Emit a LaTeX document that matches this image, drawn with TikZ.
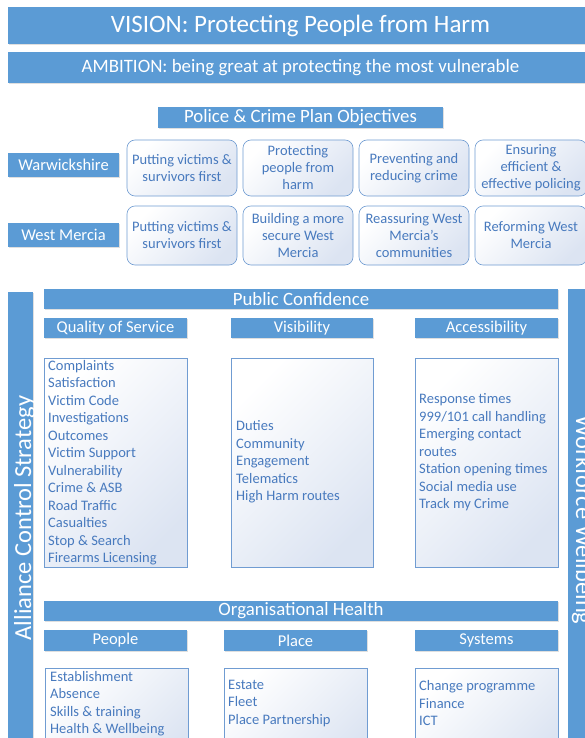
\documentclass[tikz,border=0pt]{standalone}
\usepackage{fontspec}
\setmainfont{Carlito}
\usetikzlibrary{positioning,shadows}
\definecolor{barblue}{RGB}{91,155,213}
\definecolor{itemblue}{RGB}{72,122,190}
\definecolor{edgeblue}{RGB}{112,156,210}
\definecolor{tintblue}{RGB}{220,228,242}
\tikzset{
	bar/.style={fill=barblue, text=white, outer sep=0pt, inner sep=0pt, anchor=north west,
		drop shadow={shadow xshift=0.8pt, shadow yshift=-1.2pt, opacity=0.25}},
	objbox/.style={draw=edgeblue, line width=0.6pt, rounded corners=8pt, top color=white,
		bottom color=tintblue, shading angle=45, text=itemblue, align=center, outer sep=0pt,
		inner sep=0pt, anchor=north west, font=\fontsize{14.5}{17}\selectfont},
	listbox/.style={draw=edgeblue, line width=0.6pt, top color=white, bottom color=tintblue,
		shading angle=45, outer sep=0pt, inner sep=0pt, anchor=north west},
	items/.style={text=itemblue, align=left, anchor=west, inner sep=0pt,
		font=\fontsize{14.5}{17.5}\selectfont},
	sidetext/.style={text=white, inner sep=0pt, anchor=base, font=\fontsize{24.5}{30}\selectfont},
	head/.style={font=\fontsize{16.5}{20}\selectfont},
	bighead/.style={font=\fontsize{18.8}{22}\selectfont}
}
\begin{document}
\begin{tikzpicture}[x=1pt, y=-1pt]
	\path[use as bounding box, fill=white] (0,0) rectangle (585,738);
	\clip (0,0) rectangle (585,738);
	\node[bar, minimum width=585pt, minimum height=37pt, font=\fontsize{25}{30}\selectfont] (vision) at (8,7) {VISION: Protecting People from Harm};
	\node[bar, minimum width=585pt, minimum height=31pt, font=\fontsize{18.9}{22}\selectfont] (ambition) at (8,52) {AMBITION: being great at protecting the most vulnerable};
	\node[bar, bighead, minimum width=285pt, minimum height=21pt] (pcp) at (158,107) {Police \& Crime Plan Objectives};
	\node[bar, head, minimum width=111pt, minimum height=24pt] (warks) at (8,153) {Warwickshire};
	\node[bar, head, minimum width=111pt, minimum height=24pt] (wm) at (8,223) {West Mercia};
	\node[objbox, minimum width=110pt, minimum height=56pt] (w1) at (127,140) {Putting victims \&\\survivors first};
	\node[objbox, minimum width=110pt, minimum height=56pt] (w2) at (243,140) {Protecting\\people from\\harm};
	\node[objbox, minimum width=110pt, minimum height=56pt] (w3) at (359,140) {Preventing and\\reducing crime};
	\node[objbox, minimum width=112pt, minimum height=56pt] (w4) at (475,140) {Ensuring\\efficient \&\\effective policing};
	\node[objbox, minimum width=110pt, minimum height=59pt] (m1) at (127,206) {Putting victims \&\\survivors first};
	\node[objbox, minimum width=110pt, minimum height=59pt] (m2) at (243,206) {Building a more\\secure West\\Mercia};
	\node[objbox, minimum width=110pt, minimum height=59pt] (m3) at (359,206) {Reassuring West\\Mercia’s\\communities};
	\node[objbox, minimum width=112pt, minimum height=59pt] (m4) at (475,206) {Reforming West\\Mercia};
	\node[bar, minimum width=25pt, minimum height=460pt] (acsbar) at (8,292) {};
	\node[sidetext, rotate=90] (acs) at (31,518) {Alliance Control Strategy};
	\node[bar, minimum width=30pt, minimum height=460pt] (wwbar) at (568,289) {};
	\node[sidetext, rotate=-90] (ww) at (576,520) {Workforce Wellbeing};
	\node[bar, bighead, minimum width=514pt, minimum height=20pt] (pc) at (44,289) {Public Confidence};
	\node[bar, head, minimum width=143pt, minimum height=20pt] (qos) at (44,318) {Quality of Service};
	\node[bar, head, minimum width=142pt, minimum height=20pt] (vis) at (231,318) {Visibility};
	\node[bar, head, minimum width=143pt, minimum height=20pt] (acc) at (415,318) {Accessibility};
	\node[listbox, minimum width=143pt, minimum height=209pt] (qosbox) at (44,358) {};
	\node[listbox, minimum width=142pt, minimum height=209pt] (visbox) at (231,358) {};
	\node[listbox, minimum width=143pt, minimum height=209pt] (accbox) at (415,358) {};
	\node[items] (qositems) at (48,462.5) {Complaints\\Satisfaction\\Victim Code\\Investigations\\Outcomes\\Victim Support\\Vulnerability\\Crime \& ASB\\Road Traffic\\Casualties\\Stop \& Search\\Firearms Licensing};
	\node[items] (visitems) at (236,462) {Duties\\Community\\Engagement\\Telematics\\High Harm routes};
	\node[items] (accitems) at (419,452.5) {Response times\\999/101 call handling\\Emerging contact\\routes\\Station opening times\\Social media use\\Track my Crime};
	\node[bar, bighead, minimum width=514pt, minimum height=20pt] (oh) at (44,601) {Organisational Health};
	\node[bar, head, minimum width=143pt, minimum height=21pt] (people) at (44,630) {People};
	\node[bar, head, minimum width=143pt, minimum height=21pt] (place) at (224,630) {Place};
	\node[bar, head, minimum width=143pt, minimum height=21pt] (systems) at (415,630) {Systems};
	\node[listbox, minimum width=143pt, minimum height=100pt] (peoplebox) at (45,668) {};
	\node[listbox, minimum width=143pt, minimum height=100pt] (placebox) at (224,668) {};
	\node[listbox, minimum width=143pt, minimum height=100pt] (systemsbox) at (415,668) {};
	\node[items] (peopleitems) at (50,703.5) {Establishment\\Absence\\Skills \& training\\Health \& Wellbeing};
	\node[items] (placeitems) at (228,703.5) {Estate\\Fleet\\Place Partnership};
	\node[items] (systemsitems) at (419,703.5) {Change programme\\Finance\\ICT};
\end{tikzpicture}
\end{document}
